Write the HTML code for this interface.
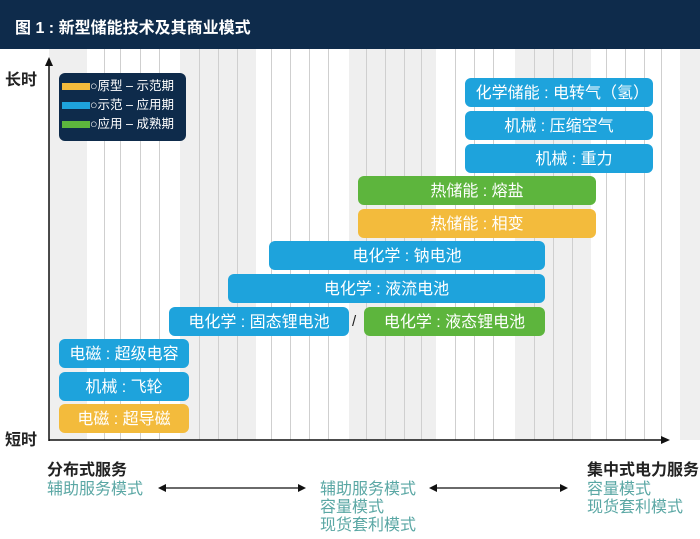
<!DOCTYPE html>
<html><head><meta charset="utf-8"><style>
*{margin:0;padding:0;box-sizing:border-box}
body{width:700px;height:539px;background:#fff;position:relative;overflow:hidden;font-family:"Liberation Sans","Noto Sans CJK SC",sans-serif}
.hdr{position:absolute;left:0;top:0;width:700px;height:49px;background:#0e2b4b;color:#fff;font-size:16px;font-weight:bold;padding:14px 0 0 15px}
.g{position:absolute;top:49px;height:391px;background:#efefef}
.l{position:absolute;top:49px;height:391px;width:1px;background:#cfcfcf}
.b{position:absolute;height:29px;border-radius:6px;color:#fff;font-size:16px;text-align:center;line-height:31px;white-space:nowrap}
.bl{background:#1ea3dc}.gr{background:#5db53d}.ye{background:#f3bb3c}
.t{position:absolute;font-size:16px;color:#5aa7a4;line-height:18px}
.k{position:absolute;font-size:16px;font-weight:bold;color:#222}
</style></head><body>
<div class="hdr">图 1 : 新型储能技术及其商业模式</div>
<div class="g" style="left:49px;width:38px"></div>
<div class="g" style="left:180px;width:76px"></div>
<div class="g" style="left:349px;width:87px"></div>
<div class="g" style="left:515px;width:76px"></div>
<div class="g" style="left:680px;width:20px"></div>
<div class="l" style="left:104px"></div><div class="l" style="left:120px"></div><div class="l" style="left:140px"></div><div class="l" style="left:159px"></div>
<div class="l" style="left:199px"></div><div class="l" style="left:218px"></div><div class="l" style="left:237px"></div>
<div class="l" style="left:271px"></div><div class="l" style="left:290px"></div><div class="l" style="left:309px"></div><div class="l" style="left:328px"></div>
<div class="l" style="left:366px"></div><div class="l" style="left:385px"></div><div class="l" style="left:404px"></div><div class="l" style="left:421px"></div>
<div class="l" style="left:455px"></div><div class="l" style="left:474px"></div><div class="l" style="left:493px"></div>
<div class="l" style="left:534px"></div><div class="l" style="left:553px"></div><div class="l" style="left:572px"></div>
<div class="l" style="left:606px"></div><div class="l" style="left:625px"></div><div class="l" style="left:644px"></div><div class="l" style="left:661px"></div>
<svg style="position:absolute;left:0;top:0" width="700" height="539">
<line x1="49" y1="64" x2="49" y2="441" stroke="#111" stroke-width="1.5"/>
<polygon points="49,57 45,66 53,66" fill="#111"/>
<line x1="49" y1="440" x2="662" y2="440" stroke="#111" stroke-width="1.5"/>
<polygon points="670,440 661,436 661,444" fill="#111"/>
<line x1="165" y1="488" x2="298" y2="488" stroke="#111" stroke-width="1.3"/>
<polygon points="158,488 166,484 166,492" fill="#111"/><polygon points="306,488 298,484 298,492" fill="#111"/>
<line x1="436" y1="488" x2="560" y2="488" stroke="#111" stroke-width="1.3"/>
<polygon points="429,488 437,484 437,492" fill="#111"/><polygon points="568,488 560,484 560,492" fill="#111"/>
</svg>
<div class="k" style="left:5px;top:66px">长时</div>
<div class="k" style="left:5px;top:426px">短时</div>
<div style="position:absolute;left:59px;top:73px;width:127px;height:68px;background:#0e2b4b;border-radius:6px;color:#fff;font-size:12.5px;line-height:19px;padding:4px 0 0 3px;white-space:nowrap">
<div><span style="display:inline-block;width:28px;height:7px;background:#f3bb3c;vertical-align:middle"></span>○原型 – 示范期</div>
<div><span style="display:inline-block;width:28px;height:7px;background:#1ea3dc;vertical-align:middle"></span>○示范 – 应用期</div>
<div><span style="display:inline-block;width:28px;height:7px;background:#5db53d;vertical-align:middle"></span>○应用 – 成熟期</div>
</div>
<div class="b bl" style="left:465px;top:78px;width:188px;text-align:right;padding-right:4px">化学储能 : 电转气（氢）</div>
<div class="b bl" style="left:465px;top:111px;width:188px">机械 : 压缩空气</div>
<div class="b bl" style="left:465px;top:144px;width:188px;padding-left:30px">机械 : 重力</div>
<div class="b gr" style="left:358px;top:176px;width:238px">热储能 : 熔盐</div>
<div class="b ye" style="left:358px;top:209px;width:238px">热储能 : 相变</div>
<div class="b bl" style="left:269px;top:241px;width:276px">电化学 : 钠电池</div>
<div class="b bl" style="left:228px;top:274px;width:317px">电化学 : 液流电池</div>
<div class="b bl" style="left:169px;top:307px;width:180px">电化学 : 固态锂电池</div>
<div style="position:absolute;left:352px;top:313px;font-size:15px;color:#222">/</div>
<div class="b gr" style="left:364px;top:307px;width:181px">电化学 : 液态锂电池</div>
<div class="b bl" style="left:59px;top:339px;width:130px">电磁 : 超级电容</div>
<div class="b bl" style="left:59px;top:372px;width:130px">机械 : 飞轮</div>
<div class="b ye" style="left:59px;top:404px;width:130px">电磁 : 超导磁</div>
<div class="k" style="left:47px;top:456px">分布式服务</div>
<div class="k" style="left:587px;top:456px">集中式电力服务</div>
<div class="t" style="left:47px;top:481px">辅助服务模式</div>
<div class="t" style="left:320px;top:481px">辅助服务模式<br>容量模式<br>现货套利模式</div>
<div class="t" style="left:587px;top:481px">容量模式<br>现货套利模式</div>
</body></html>
